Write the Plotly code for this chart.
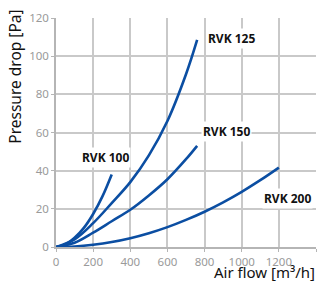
import plotly.graph_objects as go

rvk100_x = [0, 50, 100, 150, 200, 250, 300]
rvk100_y = [0, 1.3, 4.8, 10, 17.3, 26.5, 38]

rvk125_x = [0, 100, 200, 300, 400, 500, 600, 700, 760]
rvk125_y = [0, 4, 12.5, 23, 34, 48, 66, 90.5, 108.5]

rvk150_x = [0, 100, 200, 300, 400, 500, 600, 700, 760]
rvk150_y = [0, 2.2, 7.5, 13.5, 19.5, 27, 35.5, 46, 53]

rvk200_x = [0, 100, 200, 300, 400, 500, 600, 700, 800, 900, 1000, 1100, 1200]
rvk200_y = [0, 0.3, 1.2, 2.6, 4.6, 7.2, 10.4, 14.2, 18.5, 23.4, 28.9, 35, 41.6]

series = [("RVK 100", rvk100_x, rvk100_y),
          ("RVK 125", rvk125_x, rvk125_y),
          ("RVK 150", rvk150_x, rvk150_y),
          ("RVK 200", rvk200_x, rvk200_y)]

labels = [("RVK 100", 129, 47), ("RVK 125", 808, 109),
          ("RVK 150", 780, 60.5), ("RVK 200", 1108, 25.5)]

x_ticks = [0, 200, 400, 600, 800, 1000, 1200, 1400]
y_ticks = [0, 20, 40, 60, 80, 100, 120]

fig = go.Figure()
for name, xs, ys in series:
    fig.add_trace(go.Scatter(x=xs, y=ys, mode="lines", name=name,
                             line=dict(color="#0b4ea2", width=2.6, shape="spline"),
                             showlegend=False, hoverinfo="skip"))

for text, lx, ly in labels:
    fig.add_annotation(x=lx, y=ly, text="<b>" + text + "</b>", showarrow=False,
                       xanchor="left", yanchor="middle", bgcolor="white",
                       borderpad=1,
                       font=dict(size=12, color="#111111", family="Noto Sans"))

fig.add_annotation(xref="paper", yref="paper", x=1.0, y=0, yshift=-36,
                   xanchor="right", yanchor="bottom", showarrow=False,
                   borderpad=0,
                   text="Air flow [m³/h]",
                   font=dict(size=15, color="#111111", family="Noto Sans"))
fig.add_annotation(xref="paper", yref="paper", x=0, xshift=-41, y=1.045,
                   xanchor="center", yanchor="top", showarrow=False,
                   textangle=-90, text="Pressure drop [Pa]",
                   font=dict(size=15.5, color="#111111", family="Noto Sans"))

axis_common = dict(showgrid=True, gridcolor="#c9c9c9", gridwidth=1.5,
                   showline=True, linecolor="#b5b5b5", linewidth=1.5,
                   ticks="outside", ticklen=3, tickcolor="#b5b5b5",
                   tickfont=dict(size=11.5, color="#9a9a9a", family="Noto Sans"),
                   zeroline=False, automargin=False)

fig.update_xaxes(range=[0, 1400], tickvals=x_ticks, **axis_common)
fig.update_yaxes(range=[0, 120], tickvals=y_ticks, **axis_common)

fig.update_layout(width=329, height=282, plot_bgcolor="white", paper_bgcolor="white",
                  margin=dict(l=56, r=13, t=18, b=35, autoexpand=False),
                  font=dict(family="Noto Sans"))

fig.write_html("out.html", config={"displayModeBar": False},
               post_script="document.body.style.margin='0';")
